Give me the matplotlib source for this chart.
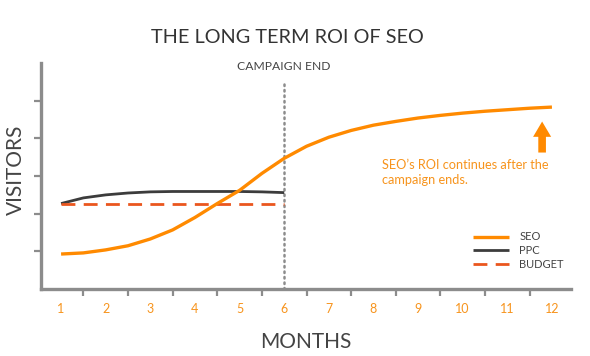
import matplotlib
matplotlib.use("Agg")
import matplotlib.pyplot as plt

plt.rcParams['font.family'] = ['Lato', 'DejaVu Sans']

# Data
months = [1, 2, 3, 4, 5, 6, 7, 8, 9, 10, 11, 12]
month_labels = [str(m) for m in months]

seo_x = [1.0, 1.5, 2.0, 2.5, 3.0, 3.5, 4.0, 4.5, 5.0, 5.5, 6.0, 6.5, 7.0, 7.5,
         8.0, 8.5, 9.0, 9.5, 10.0, 10.5, 11.0, 11.5, 12.0]
seo_y = [0.93, 0.96, 1.04, 1.15, 1.33, 1.57, 1.90, 2.27, 2.62, 3.07, 3.47, 3.79, 4.03, 4.21,
         4.35, 4.45, 4.54, 4.61, 4.67, 4.72, 4.76, 4.80, 4.83]

ppc_x = [1.0, 1.5, 2.0, 2.5, 3.0, 3.5, 4.0, 4.5, 5.0, 5.5, 6.0]
ppc_y = [2.27, 2.42, 2.50, 2.55, 2.58, 2.59, 2.59, 2.59, 2.59, 2.58, 2.56]

budget_x = [1.0, 6.0]
budget_y = [2.27, 2.27]

campaign_end = 6

SEO_C = '#FF8A00'
PPC_C = '#3C3C3C'
BUD_C = '#EA561E'
LABEL_C = '#F7941D'
AX_C = '#8C8C8C'
TXT_C = '#444444'

fig = plt.figure(figsize=(5.9, 3.56), dpi=100)
ax = fig.add_axes([0.0695, 0.188, 0.8985, 0.635])

ax.plot(seo_x, seo_y, color=SEO_C, lw=2.4, solid_capstyle='butt', solid_joinstyle='round',
        label='SEO', zorder=4)
ax.plot(ppc_x, ppc_y, color=PPC_C, lw=2.0, solid_capstyle='butt', solid_joinstyle='round',
        label='PPC', zorder=3)
ax.plot(budget_x, budget_y, color=BUD_C, lw=2.0, dashes=(5, 3), label='BUDGET', zorder=3)

ax.plot([campaign_end, campaign_end], [0, 5.55], color=AX_C, lw=1.8,
        linestyle=(0, (0.6, 1.6)), dash_capstyle='round', zorder=2)
ax.text(campaign_end, 5.75, 'CAMPAIGN END', ha='center', va='bottom',
        fontsize=8.7, color=TXT_C)

ax.annotate('', xy=(11.78, 4.52), xytext=(11.78, 3.55),
            arrowprops=dict(arrowstyle='simple,head_width=1.3,head_length=1.1,tail_width=0.55',
                            color=SEO_C, lw=0))
ax.text(8.2, 3.1, "SEO\u2019s ROI continues after the\ncampaign ends.", ha='left', va='center',
        fontsize=9.2, color=LABEL_C, linespacing=1.3)

ax.set_xlim(0.55, 12.43)
ax.set_ylim(0, 6)

for s in ['top', 'right']:
    ax.spines[s].set_visible(False)
for s in ['left', 'bottom']:
    ax.spines[s].set_color(AX_C)
    ax.spines[s].set_linewidth(2.4)

ax.set_xticks(months)
ax.set_xticklabels(month_labels, color=LABEL_C, fontsize=9)
ax.tick_params(axis='x', which='major', length=0, pad=10)
ax.set_xticks([m + 0.5 for m in months[:-1]], minor=True)
ax.tick_params(axis='x', which='minor', length=5, width=1.6, color=AX_C, direction='out')
ax.set_yticks([1, 2, 3, 4, 5])
ax.set_yticklabels([])
ax.tick_params(axis='y', length=5, width=1.6, color=AX_C, direction='out')

fig.text(0.487, 0.895, 'THE LONG TERM ROI OF SEO', ha='center', va='center',
         fontsize=14.3, color='#333333')
fig.text(0.519, 0.04, 'MONTHS', ha='center', va='center', fontsize=15, color=TXT_C)
fig.text(0.027, 0.522, 'VISITORS', ha='center', va='center', rotation=90,
         fontsize=15, color=TXT_C)

leg = ax.legend(loc='lower right', bbox_to_anchor=(1.005, 0.04), frameon=False,
                fontsize=8, handlelength=3.3, handletextpad=0.9, labelspacing=0.25)
for t in leg.get_texts():
    t.set_color(TXT_C)

fig.savefig('out.png', dpi=100)
